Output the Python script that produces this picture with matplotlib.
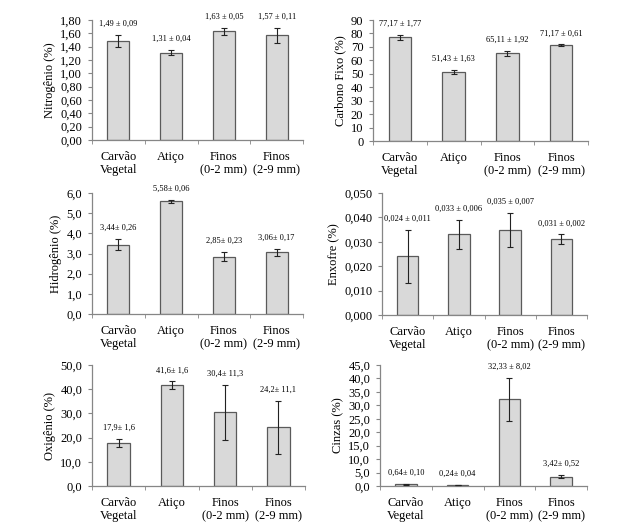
import numpy as np
import matplotlib.pyplot as plt
from matplotlib.ticker import FuncFormatter, FixedLocator

categories = ["Carvão\nVegetal", "Atiço", "Finos\n(0-2 mm)", "Finos\n(2-9 mm)"]

nitrogenio = [1.49, 1.31, 1.63, 1.57]
nitrogenio_err = [0.09, 0.04, 0.05, 0.11]
nitrogenio_txt = ["1,49 ± 0,09", "1,31 ± 0,04", "1,63 ± 0,05", "1,57 ± 0,11"]

carbono = [77.17, 51.43, 65.11, 71.17]
carbono_err = [1.77, 1.63, 1.92, 0.61]
carbono_txt = ["77,17 ± 1,77", "51,43 ± 1,63", "65,11 ± 1,92", "71,17 ± 0,61"]

hidrogenio = [3.44, 5.58, 2.85, 3.06]
hidrogenio_err = [0.26, 0.06, 0.23, 0.17]
hidrogenio_txt = ["3,44± 0,26", "5,58± 0,06", "2,85± 0,23", "3,06± 0,17"]

enxofre = [0.024, 0.033, 0.035, 0.031]
enxofre_err = [0.011, 0.006, 0.007, 0.002]
enxofre_txt = ["0,024 ± 0,011", "0,033 ± 0,006", "0,035 ± 0,007", "0,031 ± 0,002"]

oxigenio = [17.9, 41.6, 30.4, 24.2]
oxigenio_err = [1.6, 1.6, 11.3, 11.1]
oxigenio_txt = ["17,9± 1,6", "41,6± 1,6", "30,4± 11,3", "24,2± 11,1"]

cinzas = [0.64, 0.24, 32.33, 3.42]
cinzas_err = [0.10, 0.04, 8.02, 0.52]
cinzas_txt = ["0,64± 0,10", "0,24± 0,04", "32,33 ± 8,02", "3,42± 0,52"]

plt.rcParams["font.family"] = ["Liberation Serif", "DejaVu Serif"]
plt.rcParams["font.size"] = 9


def panel(fig, rect, vals, errs, txts, ylabel, ymax, ystep, decimals):
    ax = fig.add_axes(rect)
    x = np.arange(len(categories))
    ax.bar(x, vals, width=0.42, color="#d9d9d9", edgecolor="#5a5a5a", lw=0.9, zorder=2)
    ax.errorbar(x, vals, yerr=errs, fmt="none", ecolor="#222222", elinewidth=0.8,
                capsize=2.5, capthick=0.8, zorder=3)
    for xi, v, e, t in zip(x, vals, errs, txts):
        ax.annotate(t, (xi, v + e), xytext=(0, 8), textcoords="offset points",
                    ha="center", va="center", fontsize=6, annotation_clip=False)
    ax.set_xlim(-0.5, len(categories) - 0.5)
    ax.set_ylim(0, ymax)
    ax.yaxis.set_major_locator(FixedLocator(np.arange(0, ymax + ystep / 2, ystep)))
    ax.yaxis.set_major_formatter(FuncFormatter(
        lambda v, p: f"{v:.{decimals}f}".replace(".", ",")))
    ax.set_xticks(x)
    ax.set_xticklabels(categories, linespacing=1.15)
    ax.tick_params(axis="x", length=0, pad=8)
    ax.set_xticks(np.arange(-0.5, len(categories)), minor=True)
    ax.tick_params(axis="x", which="minor", length=3, direction="out", color="#868686")
    ax.tick_params(axis="y", length=3, direction="out", color="#868686", pad=4)
    for s in ["top", "right"]:
        ax.spines[s].set_visible(False)
    for s in ["left", "bottom"]:
        ax.spines[s].set_color("#868686")
        ax.spines[s].set_linewidth(0.9)
    ax.set_ylabel(ylabel, labelpad=3)
    return ax


fig = plt.figure(figsize=(6.24, 5.28), dpi=100)
W, H = 624, 528


def rect(l, r, t, b):
    return [l / W, 1 - b / H, (r - l) / W, (b - t) / H]


panel(fig, rect(92, 303, 20, 140), nitrogenio, nitrogenio_err, nitrogenio_txt,
      "Nitrogênio (%)", 1.8, 0.2, 2)
panel(fig, rect(373, 588, 20, 141), carbono, carbono_err, carbono_txt,
      "Carbono Fixo (%)", 90, 10, 0)
panel(fig, rect(92, 303, 193, 314), hidrogenio, hidrogenio_err, hidrogenio_txt,
      "Hidrogênio (%)", 6.0, 1.0, 1)
panel(fig, rect(382, 587, 193, 315), enxofre, enxofre_err, enxofre_txt,
      "Enxofre (%)", 0.05, 0.01, 3)
panel(fig, rect(92, 305, 365, 486), oxigenio, oxigenio_err, oxigenio_txt,
      "Oxigênio (%)", 50, 10, 1)
panel(fig, rect(380, 587, 365, 486), cinzas, cinzas_err, cinzas_txt,
      "Cinzas (%)", 45, 5, 1)

fig.savefig("out.png", dpi=100)
